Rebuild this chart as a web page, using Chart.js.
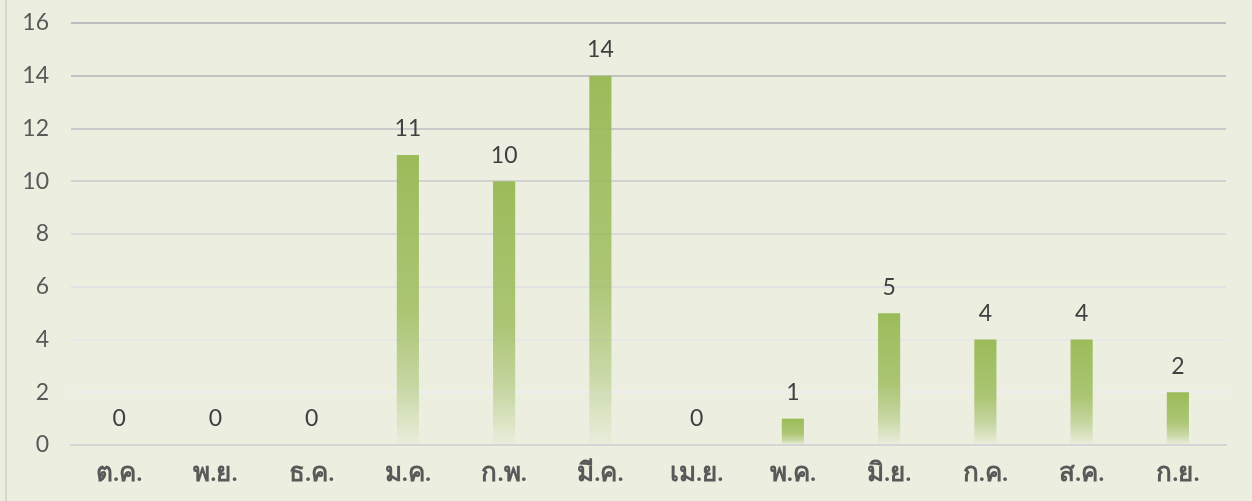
<!DOCTYPE html>
<html>
<head>
<meta charset="utf-8">
<script src="https://cdn.jsdelivr.net/npm/chart.js@4"></script>
<style>
html,body{margin:0;padding:0;background:#ECEFE0;}
#wrap{position:relative;width:1252px;height:501px;background:#ECEFE0;}
#wrap:before{content:"";position:absolute;left:5px;top:0;width:2px;height:501px;background:#D6D8CC;}
canvas{position:absolute;left:0;top:0;}
</style>
</head>
<body>
<div id="wrap"><canvas id="c" width="1252" height="501"></canvas></div>
<script>
const categories = ['ต.ค.','พ.ย.','ธ.ค.','ม.ค.','ก.พ.','มี.ค.','เม.ย.','พ.ค.','มิ.ย.','ก.ค.','ส.ค.','ก.ย.'];
const values = [0,0,0,11,10,14,0,1,5,4,4,2];
const yTicks = [0,2,4,6,8,10,12,14,16];

const FONT = "Lato, 'Noto Sans', sans-serif";

function barGradient(ctx){
  const chart = ctx.chart;
  if (!chart.chartArea || ctx.type !== 'data') return '#9BBB59';
  const y = chart.scales.y;
  const top = y.getPixelForValue(ctx.raw);
  const base = y.getPixelForValue(0);
  if (!(base - top > 0.5)) return '#9BBB59';
  const g = chart.ctx.createLinearGradient(0, top, 0, base);
  g.addColorStop(0, 'rgba(155,187,89,1)');
  g.addColorStop(0.55, 'rgba(155,187,89,0.8)');
  g.addColorStop(0.8, 'rgba(155,187,89,0.45)');
  g.addColorStop(1, 'rgba(155,187,89,0.02)');
  return g;
}

const gridColors = {16:'#BDBDBD',14:'#C2C2C2',12:'#CACACA',10:'#D2D2D2',8:'#DADADA',6:'#E2E2E2',4:'#E8E8E8',2:'#EEEEEE',0:'#D6D6D6'};

const labelPlugin = {
  id:'valueLabels',
  afterDatasetsDraw(chart){
    const ctx = chart.ctx;
    const meta = chart.getDatasetMeta(0);
    ctx.save();
    ctx.font = '23px ' + FONT;
    ctx.fillStyle = '#404040';
    ctx.textAlign = 'center';
    ctx.textBaseline = 'middle';
    meta.data.forEach((el,i)=>{
      ctx.fillText(String(values[i]), el.x, el.y - 26);
    });
    ctx.restore();
  }
};

new Chart(document.getElementById('c'), {
  type:'bar',
  data:{
    labels: categories,
    datasets:[{
      data: values,
      backgroundColor: barGradient,
      borderWidth:0,
      barPercentage:0.23,
      categoryPercentage:1.0
    }]
  },
  options:{
    responsive:false,
    animation:false,
    devicePixelRatio:1,
    layout:{padding:{left:0,right:26,top:23,bottom:0}},
    plugins:{legend:{display:false},tooltip:{enabled:false}},
    scales:{
      x:{
        grid:{display:false,drawTicks:false},
        border:{display:true,color:'#D6D6D6',width:2},
        ticks:{color:'#595959',font:{size:26,family:FONT,weight:'600'},padding:12,maxRotation:0,autoSkip:false},
        afterFit(s){ s.height = 56; }
      },
      y:{
        min:0,max:16,
        afterBuildTicks(s){ s.ticks = yTicks.map(v=>({value:v})); },
        grid:{color:(c)=>gridColors[c.tick.value]||'#D9D9D9',lineWidth:2,drawTicks:false},
        border:{display:false},
        ticks:{color:'#595959',font:{size:23,family:FONT},padding:22},
        afterFit(s){ s.width = 71; s.paddingTop = 0; s.paddingBottom = 0; }
      }
    }
  },
  plugins:[labelPlugin]
});
</script>
</body>
</html>
